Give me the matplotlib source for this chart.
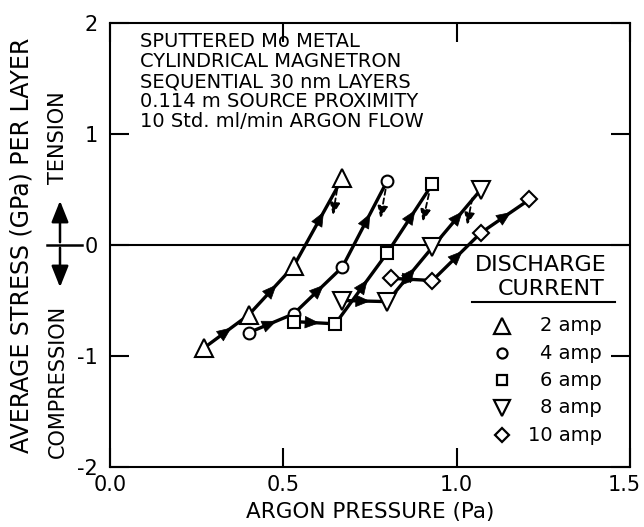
import matplotlib
matplotlib.use("Agg")
import matplotlib.pyplot as plt
import matplotlib.transforms as mtransforms
from matplotlib.patches import FancyArrowPatch
from matplotlib.lines import Line2D

# argon pressure (Pa) and average stress (GPa) for each discharge current
p_2amp = [0.27, 0.40, 0.53, 0.67]
s_2amp = [-0.93, -0.63, -0.19, 0.60]
p_4amp = [0.40, 0.53, 0.67, 0.80]
s_4amp = [-0.79, -0.62, -0.20, 0.58]
p_6amp = [0.53, 0.65, 0.80, 0.93]
s_6amp = [-0.69, -0.71, -0.07, 0.55]
p_8amp = [0.67, 0.80, 0.93, 1.07]
s_8amp = [-0.50, -0.51, -0.02, 0.50]
p_10amp = [0.81, 0.93, 1.07, 1.21]
s_10amp = [-0.30, -0.32, 0.11, 0.41]

# dashed relaxation arrows (start -> end)
relax_start_p = [0.655, 0.795, 0.920, 1.045]
relax_start_s = [0.50, 0.50, 0.46, 0.42]
relax_end_p = [0.643, 0.780, 0.902, 1.030]
relax_end_s = [0.27, 0.24, 0.21, 0.18]

labels = ["2 amp", "4 amp", "6 amp", "8 amp", "10 amp"]
markers = ["^", "o", "s", "v", "D"]
msizes = [13, 8.5, 8.5, 13, 8.5]

info = ["SPUTTERED Mo METAL", "CYLINDRICAL MAGNETRON", "SEQUENTIAL 30 nm LAYERS",
        "0.114 m SOURCE PROXIMITY", "10 Std. ml/min ARGON FLOW"]

plt.rcParams["font.family"] = "DejaVu Sans"
fig = plt.figure(figsize=(6.44, 5.27), dpi=100)
ax = fig.add_axes([110 / 644, 60 / 527, 520 / 644, 444 / 527])

series = [(p_2amp, s_2amp), (p_4amp, s_4amp), (p_6amp, s_6amp),
          (p_8amp, s_8amp), (p_10amp, s_10amp)]

ax.axhline(0, color="black", lw=1.5, zorder=1)

for (p, s), m, ms in zip(series, markers, msizes):
    ax.plot(p, s, color="black", lw=2.4, zorder=2, solid_capstyle="round")
    # direction arrows half way along each segment
    for i in range(len(p) - 1):
        x0 = p[i] + 0.40 * (p[i + 1] - p[i])
        y0 = s[i] + 0.40 * (s[i + 1] - s[i])
        x1 = p[i] + 0.62 * (p[i + 1] - p[i])
        y1 = s[i] + 0.62 * (s[i + 1] - s[i])
        ax.annotate("", xy=(x1, y1), xytext=(x0, y0),
                    arrowprops=dict(arrowstyle="-|>,head_length=0.75,head_width=0.32",
                                    mutation_scale=13, color="black", lw=0.5,
                                    shrinkA=0, shrinkB=0),
                    zorder=3)
    ax.plot(p, s, ls="none", marker=m, ms=ms, mfc="white", mec="black",
            mew=1.5, zorder=4)

for xs, ys, xe, ye in zip(relax_start_p, relax_start_s, relax_end_p, relax_end_s):
    ax.annotate("", xy=(xe, ye), xytext=(xs, ys),
                arrowprops=dict(arrowstyle="-|>,head_length=0.6,head_width=0.25",
                                mutation_scale=12, color="black", lw=1.3,
                                ls=(0, (3, 2)), shrinkA=0, shrinkB=0))

ax.set_xlim(0, 1.5)
ax.set_ylim(-2, 2)
ax.set_xticks([0, 0.5, 1.0, 1.5])
ax.set_xticklabels(["0.0", "0.5", "1.0", "1.5"])
ax.set_yticks([-2, -1, 0, 1, 2])
ax.set_yticklabels(["-2", "-1", "0", "1", "2"])
ax.tick_params(direction="in", length=14, width=1.5, labelsize=15,
               top=True, right=True, pad=6)
ax.tick_params(axis="y", pad=9)
for sp in ax.spines.values():
    sp.set_linewidth(1.5)
# keep the last x label inside the figure
last = ax.get_xticklabels()[-1]
last.set_transform(last.get_transform() +
                   mtransforms.ScaledTranslation(-6 / 100, 0, fig.dpi_scale_trans))

ax.set_xlabel("ARGON PRESSURE (Pa)", fontsize=15.5, labelpad=5)

for i, line in enumerate(info):
    ax.text(0.058, 0.958 - i * 0.045, line, transform=ax.transAxes,
            fontsize=14, va="center", ha="left")

# legend block
ax.text(0.829, 0.455, "DISCHARGE", transform=ax.transAxes, fontsize=16,
        ha="center", va="center")
ax.text(0.848, 0.401, "CURRENT", transform=ax.transAxes, fontsize=16,
        ha="center", va="center")
ax.plot([0.696, 0.971], [0.372, 0.372], transform=ax.transAxes, color="black",
        lw=1.5)
for i, (m, ms, lab) in enumerate(zip(markers, msizes, labels)):
    yy = 0.318 - i * 0.0615
    ax.plot([0.754], [yy], transform=ax.transAxes, ls="none", marker=m,
            ms=ms * 0.85, mfc="white", mec="black", mew=1.6)
    ax.text(0.946, yy, lab, transform=ax.transAxes, fontsize=14,
            ha="right", va="center")

# y axis labels
fig.text(22 / 644, 1 - 245 / 527, "AVERAGE STRESS (GPa) PER LAYER",
         rotation=90, fontsize=17, ha="center", va="center")
fig.text(58 / 644, 1 - 138 / 527, "TENSION", rotation=90, fontsize=15,
         ha="center", va="center")
fig.text(58 / 644, 1 - 381 / 527, "COMPRESSION", rotation=90, fontsize=15,
         ha="center", va="center")
for yend in (198, 290):
    fig.patches.append(FancyArrowPatch(
        (60 / 644, 1 - 245 / 527), (60 / 644, 1 - yend / 527),
        transform=fig.transFigure,
        arrowstyle="-|>,head_length=1.0,head_width=0.4",
        color="black", lw=1.8, mutation_scale=13))
fig.lines.append(Line2D([47 / 644, 82 / 644], [1 - 245 / 527, 1 - 245 / 527],
                        transform=fig.transFigure, color="black", lw=1.8))

fig.savefig("out.png", dpi=100)
